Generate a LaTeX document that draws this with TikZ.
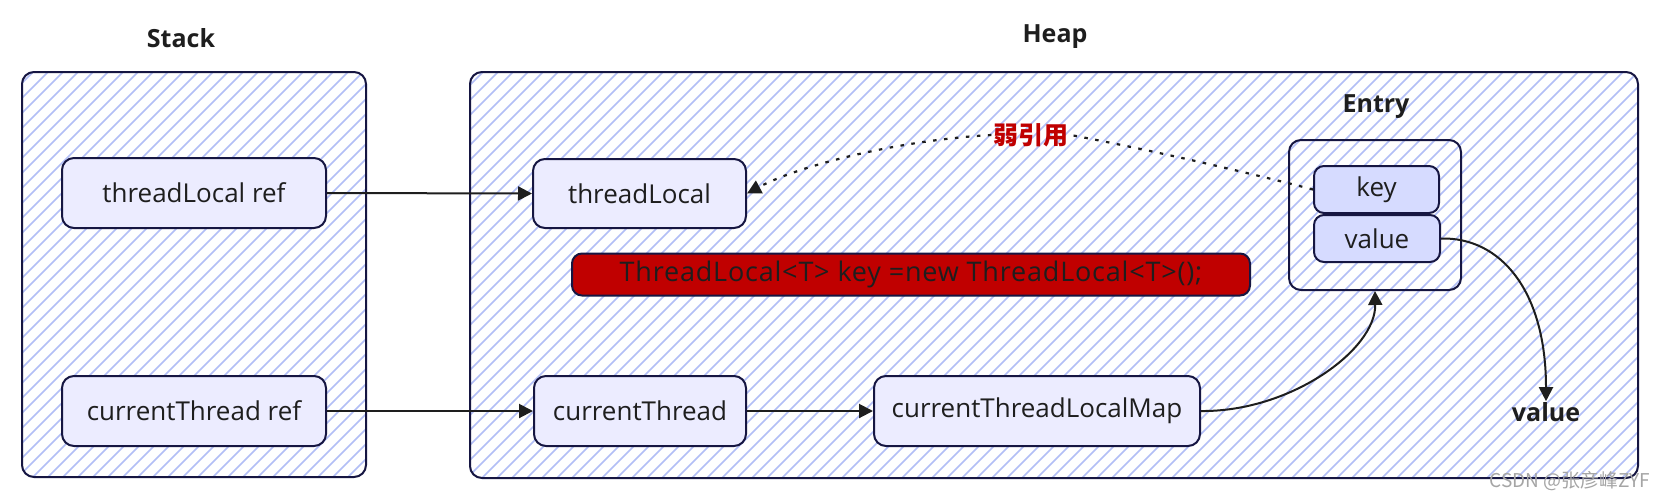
\documentclass[tikz,border=0pt]{standalone}
\usepackage{fontspec}
\setmainfont{Open Sans}
\newfontfamily\cjk{Noto Sans CJK SC}
\usetikzlibrary{arrows.meta}
\definecolor{bd}{RGB}{22,22,66}
\definecolor{nf}{RGB}{236,236,255}
\definecolor{kf}{RGB}{214,219,255}
\definecolor{hatchc}{RGB}{178,190,246}
\definecolor{wred}{RGB}{192,0,0}
\definecolor{txt}{RGB}{30,30,30}
\definecolor{wm}{RGB}{165,165,165}
\begin{document}
\begin{tikzpicture}[x=1pt,y=-1pt,
  nodebox/.style={draw=bd, line width=2pt, fill=nf, rounded corners=12pt, text=txt,
    font=\fontsize{26}{30}\selectfont, inner sep=0pt},
  kvbox/.style={nodebox, fill=kf, rounded corners=10pt},
  container/.style={draw=bd, line width=2pt, rounded corners=12pt, inner sep=0pt},
  title/.style={text=txt, font=\fontsize{25}{30}\selectfont\bfseries, inner sep=1pt},
  edge/.style={draw=txt, line width=2pt, -{Triangle[length=14pt,width=14pt]}},
  weak/.style={draw=txt, line width=2.2pt, dash pattern=on 3.5pt off 7.5pt},
  hatchline/.style={draw=hatchc, line width=1.5pt}]
\useasboundingbox (0,0) rectangle (1662,499);
\fill[white] (0,0) rectangle (1662,499);
% hatch
\begin{scope}
\clip[rounded corners=12pt] (22,72) rectangle (366,477) (470,72) rectangle (1638,478);
\foreach \c in {90,105,...,2130} \draw[hatchline] (\c-480,480) -- (\c-70,70);
\end{scope}
% containers
\node[container, minimum width=344pt, minimum height=405pt] (stack) at (194,274.5) {};
\node[container, minimum width=1168pt, minimum height=406pt] (heap) at (1054,275) {};
\node[title] (stacklbl) at (181,38) {Stack};
\node[title] (heaplbl) at (1055,37) {Heap};
% nodes
\node[nodebox, minimum width=264pt, minimum height=70pt] (tlref) at (194,193) {threadLocal ref};
\node[nodebox, minimum width=264pt, minimum height=70pt] (ctref) at (194,411) {currentThread ref};
\node[nodebox, minimum width=213pt, minimum height=69pt] (tl) at (639.5,193.5) {threadLocal};
\node[nodebox, minimum width=212pt, minimum height=70pt] (ct) at (640,411) {currentThread};
\node[nodebox, minimum width=326pt, minimum height=70pt] (map) at (1037,411) {currentThreadLocalMap};
\node[nodebox, fill=wred, rounded corners=10pt, minimum width=678pt, minimum height=42pt,
  font=\fontsize{27}{30}\selectfont\addfontfeatures{LetterSpace=3}] (code) at (911,274.5) {ThreadLocal<T> key =new ThreadLocal<T>();};
\node[container, minimum width=172pt, minimum height=150pt] (entry) at (1375,215) {};
\node[title] (entrylbl) at (1376,107) {Entry};
\node[kvbox, minimum width=125pt, minimum height=47pt] (key) at (1376.5,189.5) {key};
\node[kvbox, minimum width=126pt, minimum height=47pt] (val) at (1377,238.5) {value};
\node[title] (vtxt) at (1546,412) {value};
\node[text=wred, font=\cjk\fontsize{25}{30}\selectfont\bfseries, inner sep=2pt] (weaklbl) at (1031,135) {弱引用};
% edges
\draw[edge] (tlref.east) -- (tl.west);
\draw[edge] (ctref.east) -- (ct.west);
\draw[edge] (ct.east) -- (map.west);
\draw[edge] (map.east) .. controls (1290,412) and (1376,350) .. (entry.south);
\draw[edge] (val.east) .. controls (1500,237) and (1546,290) .. (vtxt.north);
\draw[weak] (key.west) .. controls (1230,168) and (1140,148) .. (weaklbl.east);
\draw[weak, -{Triangle[length=14pt,width=14pt]}] (weaklbl.west) .. controls (900,140) and (800,165) .. (tl.east);
% watermark
\node[text=wm, font=\cjk\fontsize{19}{20}\selectfont, inner sep=0pt] (wmark) at (1570,481) {CSDN @张彦峰ZYF};
\end{tikzpicture}
\end{document}
